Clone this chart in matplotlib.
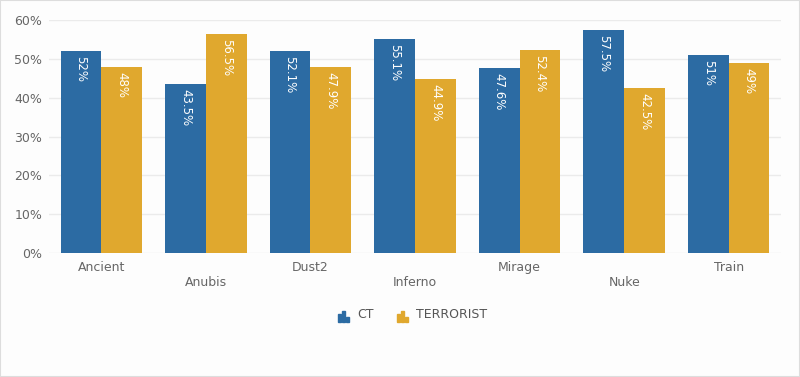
import numpy as np
import matplotlib.pyplot as plt
import matplotlib.ticker as mtick
from matplotlib.patches import Rectangle

maps = ['Ancient', 'Anubis', 'Dust2', 'Inferno', 'Mirage', 'Nuke', 'Train']
ct = [52, 43.5, 52.1, 55.1, 47.6, 57.5, 51]
terrorist = [48, 56.5, 47.9, 44.9, 52.4, 42.5, 49]
ct_labels = ['52%', '43.5%', '52.1%', '55.1%', '47.6%', '57.5%', '51%']
t_labels = ['48%', '56.5%', '47.9%', '44.9%', '52.4%', '42.5%', '49%']

blue = '#2c6ba3'
gold = '#e0a82e'

fig = plt.figure(figsize=(8, 3.77), dpi=100, facecolor='#fdfdfd')
ax = fig.add_axes([49 / 800, 1 - 253 / 377, 732 / 800, 233 / 377])
ax.set_facecolor('#fdfdfd')

x = np.arange(len(maps))
w = 0.39
b1 = ax.bar(x - w / 2, ct, w, color=blue, zorder=2)
b2 = ax.bar(x + w / 2, terrorist, w, color=gold, zorder=2)

for bars, labels in [(b1, ct_labels), (b2, t_labels)]:
    for bar, lab in zip(bars, labels):
        ax.text(bar.get_x() + bar.get_width() / 2, bar.get_height() - 1.3, lab,
                rotation=-90, ha='center', va='top', color='white', fontsize=8.5)

ax.set_ylim(0, 60)
ax.set_xlim(-0.5, len(maps) - 0.5)
ax.yaxis.set_major_locator(mtick.MultipleLocator(10))
ax.yaxis.set_major_formatter(mtick.FormatStrFormatter('%d%%'))
ax.grid(axis='y', color='#ebebeb', linewidth=1, zorder=0)
for s in ax.spines.values():
    s.set_visible(False)
ax.tick_params(axis='both', length=0, colors='#666666', labelsize=9)
ax.tick_params(axis='y', pad=5)

ax.set_xticks(x)
ax.set_xticklabels([m if i % 2 == 0 else '\n' + m for i, m in enumerate(maps)])
ax.tick_params(axis='x', pad=6)

# legend with small bar icons
def icon(x0, y0, color):
    for dx, h in [(0, 8), (4, 11), (8, 5)]:
        fig.patches.append(Rectangle((x0 + dx, y0), 2.6, h, color=color,
                                     transform=None))

icon(338, 377 - 322, blue)
fig.text(357 / 800, 1 - 315 / 377, 'CT', color='#555555', fontsize=9, va='center')
icon(397, 377 - 322, gold)
fig.text(416 / 800, 1 - 315 / 377, 'TERRORIST', color='#555555', fontsize=9, va='center')

# outer frame
fig.patches.append(Rectangle((0, 0), 1, 1, transform=fig.transFigure,
                             fill=False, edgecolor='#dddddd', linewidth=1.5))

fig.savefig('out.png', dpi=100, facecolor=fig.get_facecolor())
